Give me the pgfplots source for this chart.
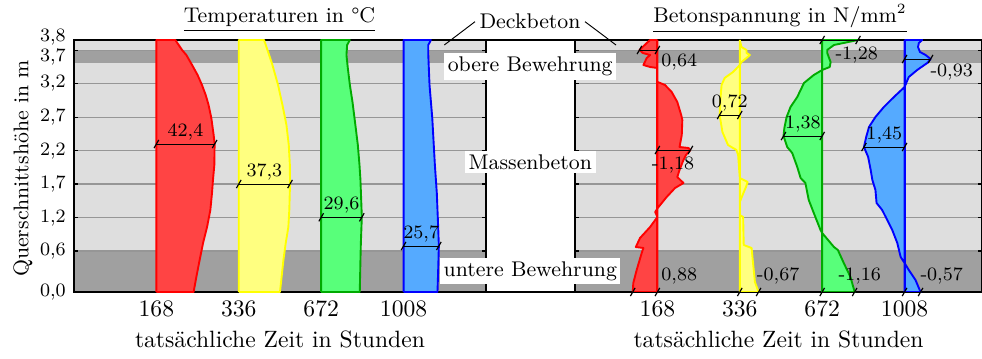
\documentclass[border=0pt]{standalone}
\usepackage{pgfplots}
\pgfplotsset{compat=1.18}
\usepackage{pgfplotstable}

\definecolor{bandhell}{RGB}{222,222,222}
\definecolor{banddunkel}{RGB}{160,160,160}
\definecolor{gitter}{RGB}{150,150,150}
\definecolor{rotf}{RGB}{255,68,68}
\definecolor{gelbf}{RGB}{255,255,128}
\definecolor{gelbl}{RGB}{255,255,0}
\definecolor{gruenf}{RGB}{88,255,122}
\definecolor{gruenl}{RGB}{0,170,0}
\definecolor{blauf}{RGB}{85,170,255}

% Temperaturprofile: h = Hoehe (Zeichenkoordinate), T in Grad C
\pgfplotstableread{
h T
0 0
252 0
252 13.8
242 18.7
237 21.8
227 26.0
217 30.0
207 33.2
197 35.9
187 38.0
174 40.0
157 41.7
148 42.4
127 42.2
112 41.2
99 40.5
82 39.3
65 36.9
49 34.0
32 31.5
15 29.1
0 27.1
0 0
}\tempA
\pgfplotstableread{
h T
0 0
252 0
252 18.4
242 20.9
227 24.5
207 28.6
187 31.8
167 34.7
147 36.4
127 37.2
108 37.3
82 36.8
65 36.1
49 34.2
32 32.5
0 30.0
0 0
}\tempB
\pgfplotstableread{
h T
0 0
252 0
252 20.9
247 18.9
237 18.4
224 19.4
207 20.9
190 22.8
167 24.9
147 26.7
127 27.9
112 28.6
75 29.6
49 28.9
32 28.6
0 28.1
0 0
}\tempC
\pgfplotstableread{
h T
0 0
252 0
252 19.9
247 18.0
237 18.0
207 18.9
174 20.9
127 22.8
99 24.2
65 25.2
46 25.7
22 25.2
0 24.7
0 0
}\tempD

% Betonspannung in N/mm^2
\pgfplotstableread{
h s
252 0
252 0.26
249 0.38
242 0.64
239 0.52
237 0.26
234 0.38
227 0.50
225 0.26
224 0
210 0
209 -0.10
207 -0.27
200 -0.51
190 -0.71
177 -0.85
172 -0.89
157 -0.87
145 -0.79
144 -1.11
142 -1.18
137 -1.02
132 -0.93
122 -0.79
115 -0.71
109 -0.93
104 -0.63
95 -0.33
85 -0.04
80 0.08
75 0
65 0.26
54 0.62
45 0.77
44 0.50
39 0.56
22 0.74
9 0.86
0 0.88
0 0
252 0
}\spA
\pgfplotstableread{
h s
252 0
245 -0.06
242 -0.24
239 -0.24
237 -0.36
234 -0.24
230 -0.06
227 0
220 0.24
214 0.54
207 0.65
190 0.70
177 0.72
160 0.62
147 0.42
142 0.12
137 0.06
114 0
110 -0.28
105 -0.22
97 -0.10
90 0
77 0
75 -0.12
47 -0.14
44 -0.42
27 -0.48
10 -0.54
0 -0.67
0 0
252 0
}\spB
\pgfplotstableread{
h s
252 0
252 -1.28
247 -0.42
242 -0.18
239 -0.18
230 -0.30
225 -0.27
222 0
217 0.30
209 0.65
195 0.89
185 1.13
175 1.27
164 1.35
156 1.38
145 1.25
139 1.07
125 0.89
114 0.77
109 0.60
92 0.48
79 0.30
62 0.06
59 0
45 -0.42
42 -0.56
29 -0.77
15 -1.01
0 -1.16
0 0
252 0
}\spC
\pgfplotstableread{
h s
252 0
252 -0.63
249 -0.51
245 -0.48
240 -0.55
237 -0.75
233 -0.93
229 -0.81
222 -0.45
215 -0.15
205 0
195 0.38
185 0.74
175 1.04
165 1.27
155 1.37
145 1.45
135 1.30
122 1.21
112 1.15
102 1.04
89 1.00
82 0.80
72 0.62
62 0.44
49 0.26
35 0.14
29 0
22 -0.15
12 -0.39
0 -0.57
0 0
252 0
}\spD

\pgfplotsset{
  quer/.style={
    scale only axis, height=106.77pt, set layers, clip=false,
    anchor=south west,
    xmin=0, ymin=0, ymax=252,
    axis line style={line width=0.6pt},
    xtick={1,2,3,4}, xticklabels={168,336,672,1008},
    xtick style={draw=none},
    ytick={0,41,74.3,108,141.3,174.7,208.7,241.3,252},
    ymajorgrids, grid style={gitter, line width=0.6pt},
    major tick length=1.8pt, ytick style={black, line width=0.5pt},
    xlabel={tatsächliche Zeit in Stunden},
    xlabel style={yshift=1pt},
  },
  mass/.style={black, line width=0.4pt, mark=|, mark size=2pt,
    mark options={solid, rotate=-30, line width=0.5pt}},
  kontur/.style={line width=0.8pt, line join=round},
}
\tikzset{wert/.style={font=\footnotesize, inner sep=1.5pt}}

\begin{document}
\begin{tikzpicture}

% Temperaturen
\begin{axis}[quer, at={(31.35pt,28.39pt)}, width=174.56pt, xmax=5,
  ylabel={Querschnittshöhe in m},
  ylabel style={font=\small, at={(axis description cs:-0.124,0.49)}, anchor=center},
  yticklabel style={font=\footnotesize},
  yticklabels={{0,0},{0,6},{1,2},{1,7},{2,2},{2,7},{3,2},
    {\raisebox{-4.6pt}[0pt][0pt]{3,7}},{\raisebox{-0.8pt}[0pt][0pt]{3,8}}}]
\begin{pgfonlayer}{axis background}
  \fill[bandhell] (axis cs:0,0) rectangle (axis cs:5,252);
  \fill[banddunkel] (axis cs:0,0) rectangle (axis cs:5,41);
  \fill[banddunkel] (axis cs:0,229.3) rectangle (axis cs:5,241.3);
\end{pgfonlayer}
\addplot[kontur, draw=red, fill=rotf] table[x expr=1+\thisrow{T}/60, y=h] {\tempA};
\addplot[kontur, draw=gelbl, fill=gelbf] table[x expr=2+\thisrow{T}/60, y=h] {\tempB};
\addplot[kontur, draw=gruenl, fill=gruenf] table[x expr=3+\thisrow{T}/60, y=h] {\tempC};
\addplot[kontur, draw=blue, fill=blauf] table[x expr=4+\thisrow{T}/60, y=h] {\tempD};

\addplot[mass] coordinates {(1,148) (1.707,148)};
\addplot[mass] coordinates {(2,108) (2.622,108)};
\addplot[mass] coordinates {(3,74.7) (3.493,74.7)};
\addplot[mass] coordinates {(4,46) (4.428,46)};
\node[wert, above] at (axis cs:1.353,148) {42,4};
\node[wert, above] at (axis cs:2.311,108) {37,3};
\node[wert, above] at (axis cs:3.247,74.7) {29,6};
\node[wert, above] at (axis cs:4.214,46) {25,7};
\end{axis}

% Betonspannung
\begin{axis}[quer, at={(243.63pt,28.39pt)}, width=172.45pt, xmax=4.94,
  yticklabels={}]
\begin{pgfonlayer}{axis background}
  \fill[bandhell] (axis cs:0,0) rectangle (axis cs:4.94,252);
  \fill[banddunkel] (axis cs:0,0) rectangle (axis cs:4.94,41);
  \fill[banddunkel] (axis cs:0,229.3) rectangle (axis cs:4.94,241.3);
\end{pgfonlayer}
\addplot[kontur, draw=red, fill=rotf] table[x expr=1-0.34*(\thisrow{s}), y=h] {\spA};
\addplot[kontur, red] coordinates {(1,0) (1,252)};
\addplot[kontur, draw=gelbl, fill=gelbf] table[x expr=2-0.34*(\thisrow{s}), y=h] {\spB};
\addplot[kontur, gelbl] coordinates {(2,0) (2,252)};
\addplot[kontur, draw=gruenl, fill=gruenf] table[x expr=3-0.34*(\thisrow{s}), y=h] {\spC};
\addplot[kontur, gruenl] coordinates {(3,0) (3,252)};
\addplot[kontur, draw=blue, fill=blauf] table[x expr=4-0.34*(\thisrow{s}), y=h] {\spD};
\addplot[kontur, blue] coordinates {(4,0) (4,252)};

\addplot[mass] coordinates {(0.782,242) (1,242)};
\addplot[mass] coordinates {(1,142) (1.401,142)};
\addplot[mass] coordinates {(0.701,0) (1,0)};
\addplot[mass] coordinates {(1.755,177) (2,177)};
\addplot[mass] coordinates {(2,0) (2.228,0)};
\addplot[mass] coordinates {(3,252) (3.435,252)};
\addplot[mass] coordinates {(2.531,156) (3,156)};
\addplot[mass] coordinates {(3,0) (3.394,0)};
\addplot[mass] coordinates {(4,233) (4.316,233)};
\addplot[mass] coordinates {(3.507,145) (4,145)};
\addplot[mass] coordinates {(4,0) (4.194,0)};

\node[wert, anchor=north west] at (axis cs:1,242) {0,64};
\node[wert, anchor=north] at (axis cs:1.19,139) {-1,18};
\node[wert, anchor=south west] at (axis cs:1,4) {0,88};
\node[wert, above] at (axis cs:1.878,177) {0,72};
\node[wert, anchor=south west] at (axis cs:2.16,4) {-0,67};
\node[wert, anchor=north west] at (axis cs:3.113,249) {-1,28};
\node[wert, above] at (axis cs:2.765,156) {1,38};
\node[wert, anchor=south west] at (axis cs:3.15,4) {-1,16};
\node[wert, anchor=north west] at (axis cs:4.266,232) {-0,93};
\node[wert, above] at (axis cs:3.754,145) {1,45};
\node[wert, anchor=south west] at (axis cs:4.145,4) {-0,57};
\end{axis}

\begin{scope}[x=0.4237pt, y=0.4237pt]
\draw[line width=0.6pt] (486,319) -- (575,319) (486,67) -- (575,67);
\node[font=\small, anchor=base] at (279.5,336) {\underline{Temperaturen in °C}};
\node[font=\small, anchor=base] at (780,336) {\underline{Betonspannung in N/mm$^2$}};
\node[font=\small, anchor=base] at (530,330.7) {Deckbeton};
\draw[line width=0.4pt] (475,337.3) -- (444.3,314);
\draw[line width=0.4pt] (585,337.3) -- (616,314);
\node[font=\small, fill=white, inner sep=1.5pt] at (530.2,292.5) {obere Bewehrung};
\node[font=\small, fill=white, inner sep=1.5pt] at (530.3,197) {Massenbeton};
\node[font=\small, fill=white, inner sep=1.5pt] at (530.3,87.7) {untere Bewehrung};
\end{scope}
\pgfresetboundingbox
\useasboundingbox (0,0) rectangle (416.07pt,152.11pt);
\end{tikzpicture}
\end{document}
